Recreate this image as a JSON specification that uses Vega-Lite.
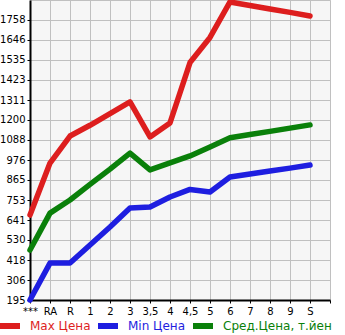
{
  "$schema": "https://vega.github.io/schema/vega-lite/v6.json",
  "width": 300,
  "height": 300,
  "autosize": {"type": "none"},
  "padding": {"left": 30, "top": 0, "right": 15, "bottom": 35},
  "background": "white",
  "config": {
    "view": {"fill": "#f6f6f6", "stroke": "#c0c0c0", "strokeWidth": 1},
    "font": "DejaVu Sans",
    "axis": {"gridColor": "#c0c0c0", "gridWidth": 1, "gridOpacity": 1, "domainColor": "black", "domainWidth": 2, "tickColor": "black", "tickSize": 3, "labelColor": "black", "labelFont": "DejaVu Sans", "labelFontSize": 10, "title": null}
  },
  "data": {
    "values": [
      {"cat": "***", "series": "Max Цена", "value": 669},
      {"cat": "RA", "series": "Max Цена", "value": 959},
      {"cat": "R", "series": "Max Цена", "value": 1110},
      {"cat": "1", "series": "Max Цена", "value": 1170},
      {"cat": "2", "series": "Max Цена", "value": 1235},
      {"cat": "3", "series": "Max Цена", "value": 1300},
      {"cat": "3,5", "series": "Max Цена", "value": 1105},
      {"cat": "4", "series": "Max Цена", "value": 1183},
      {"cat": "4,5", "series": "Max Цена", "value": 1520},
      {"cat": "5", "series": "Max Цена", "value": 1660},
      {"cat": "6", "series": "Max Цена", "value": 1858},
      {"cat": "7", "series": "Max Цена", "value": 1838},
      {"cat": "8", "series": "Max Цена", "value": 1819},
      {"cat": "9", "series": "Max Цена", "value": 1800},
      {"cat": "S", "series": "Max Цена", "value": 1780},
      {"cat": "***", "series": "Min Цена", "value": 195},
      {"cat": "RA", "series": "Min Цена", "value": 401},
      {"cat": "R", "series": "Min Цена", "value": 401},
      {"cat": "1", "series": "Min Цена", "value": 502},
      {"cat": "2", "series": "Min Цена", "value": 602},
      {"cat": "3", "series": "Min Цена", "value": 708},
      {"cat": "3,5", "series": "Min Цена", "value": 714},
      {"cat": "4", "series": "Min Цена", "value": 770},
      {"cat": "4,5", "series": "Min Цена", "value": 812},
      {"cat": "5", "series": "Min Цена", "value": 798},
      {"cat": "6", "series": "Min Цена", "value": 881},
      {"cat": "7", "series": "Min Цена", "value": 898},
      {"cat": "8", "series": "Min Цена", "value": 915},
      {"cat": "9", "series": "Min Цена", "value": 931},
      {"cat": "S", "series": "Min Цена", "value": 948},
      {"cat": "***", "series": "Сред.Цена, т.йен", "value": 474},
      {"cat": "RA", "series": "Сред.Цена, т.йен", "value": 680},
      {"cat": "R", "series": "Сред.Цена, т.йен", "value": 753},
      {"cat": "1", "series": "Сред.Цена, т.йен", "value": 840},
      {"cat": "2", "series": "Сред.Цена, т.йен", "value": 925},
      {"cat": "3", "series": "Сред.Цена, т.йен", "value": 1015},
      {"cat": "3,5", "series": "Сред.Цена, т.йен", "value": 921},
      {"cat": "4", "series": "Сред.Цена, т.йен", "value": 960},
      {"cat": "4,5", "series": "Сред.Цена, т.йен", "value": 999},
      {"cat": "5", "series": "Сред.Цена, т.йен", "value": 1049},
      {"cat": "6", "series": "Сред.Цена, т.йен", "value": 1100},
      {"cat": "7", "series": "Сред.Цена, т.йен", "value": 1118},
      {"cat": "8", "series": "Сред.Цена, т.йен", "value": 1136},
      {"cat": "9", "series": "Сред.Цена, т.йен", "value": 1154},
      {"cat": "S", "series": "Сред.Цена, т.йен", "value": 1172}
    ]
  },
  "mark": {"type": "line", "strokeWidth": 5.5, "strokeCap": "round", "strokeJoin": "round", "clip": false},
  "encoding": {
    "x": {
      "field": "cat", "type": "ordinal",
      "scale": {"type": "point", "padding": 0, "domain": ["***", "RA", "R", "1", "2", "3", "3,5", "4", "4,5", "5", "6", "7", "8", "9", "S", " "]},
      "axis": {"labelAngle": 0, "grid": true, "labelPadding": 3}
    },
    "y": {
      "field": "value", "type": "quantitative",
      "scale": {"domain": [195, 1869], "nice": false, "zero": false},
      "axis": {"values": [195, 306, 418, 530, 641, 753, 865, 976, 1088, 1200, 1311, 1423, 1535, 1646, 1758], "format": "d", "grid": true, "labelPadding": 2}
    },
    "color": {
      "field": "series", "type": "nominal",
      "scale": {"domain": ["Max Цена", "Min Цена", "Сред.Цена, т.йен"], "range": ["#dd1e1e", "#1e1ee0", "#0a800a"]},
      "legend": {
        "orient": "none", "legendX": -33, "legendY": 313, "direction": "horizontal", "gridAlign": "none",
        "title": null, "symbolType": "stroke", "symbolStrokeWidth": 6, "symbolSize": 400,
        "labelFontSize": 12, "labelFont": "DejaVu Sans", "labelLimit": 400, "columnPadding": -5, "labelOffset": 7,
        "encode": {"labels": {"update": {"fill": {"scale": "color", "field": "value"}}}}
      }
    }
  }
}
